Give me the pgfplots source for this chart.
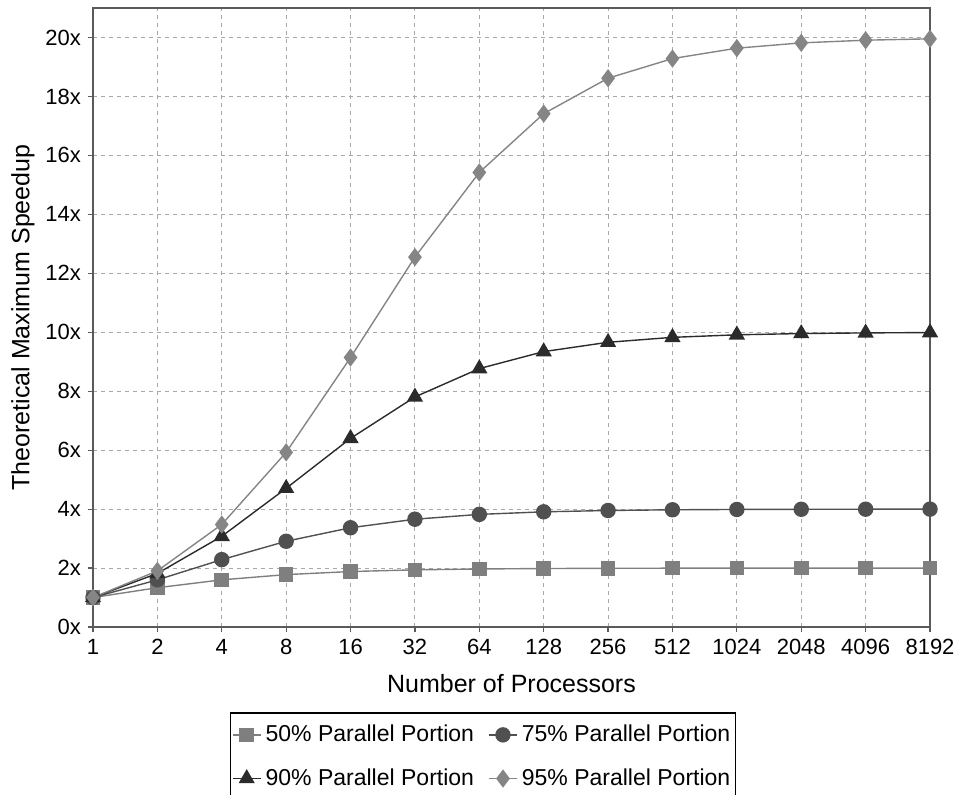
\documentclass[border=0pt]{standalone}
\usepackage{pgfplots}
\pgfplotsset{compat=1.18}
\usepackage{fontspec}
\setmainfont{Liberation Sans}

\definecolor{gridgray}{HTML}{A8A8A8}
\definecolor{framegray}{HTML}{5A5A5A}
\definecolor{sqgray}{HTML}{7F7F7F}
\definecolor{cigray}{HTML}{505050}
\definecolor{trgray}{HTML}{2B2B2B}
\definecolor{digray}{HTML}{858585}

\begin{document}
\begin{tikzpicture}
\begin{axis}[
    scale only axis,
    width=418.5pt,
    height=309.5pt,
    xmin=0, xmax=13,
    ymin=0, ymax=21,
    xtick={0,...,13},
    xticklabels={1,2,4,8,16,32,64,128,256,512,1024,2048,4096,8192},
    ytick={0,2,...,20},
    yticklabels={0x,2x,4x,6x,8x,10x,12x,14x,16x,18x,20x},
    tick pos=left,
    tick align=outside,
    major tick length=2.5pt,
    tick style={framegray, line width=0.6pt},
    axis line style={framegray, line width=1pt},
    grid=major,
    grid style={gridgray, dash pattern=on 2pt off 2pt, line width=0.5pt},
    tick label style={font=\fontsize{11}{13}\selectfont},
    label style={font=\fontsize{12.5}{15}\selectfont},
    xlabel={Number of Processors},
    ylabel={Theoretical Maximum Speedup},
    xlabel style={at={(axis description cs:0.5,-0.091)}, anchor=center},
    ylabel style={at={(axis description cs:-0.0836,0.5)}, anchor=center},
    legend columns=2,
    legend style={
        at={(axis description cs:0.466,-0.138)}, anchor=north,
        draw=black, line width=0.6pt,
        font=\fontsize{11.5}{14}\selectfont,
        inner xsep=0.5pt, inner ysep=4pt,
        row sep=8pt,
        /tikz/every even column/.append style={column sep=5pt},
    },
    legend cell align=left,
    legend image code/.code={
        \draw[mark repeat=2, mark phase=2, #1]
            plot coordinates {(0cm,0cm) (0.25cm,0cm) (0.5cm,0cm)};
    },
]

% 50% parallel portion
\addplot[sqgray, line width=0.7pt, mark=square*, mark size=3.3pt, mark options={solid, fill=sqgray}]
    coordinates {
        (0,1.000) (1,1.333) (2,1.600) (3,1.778) (4,1.882) (5,1.939) (6,1.969)
        (7,1.984) (8,1.992) (9,1.996) (10,1.998) (11,1.999) (12,2.000) (13,2.000)
    };
\addlegendentry{50\% Parallel Portion}

% 75% parallel portion
\addplot[cigray, line width=0.7pt, mark=*, mark size=3.5pt, mark options={solid, fill=cigray}]
    coordinates {
        (0,1.000) (1,1.600) (2,2.286) (3,2.909) (4,3.368) (5,3.657) (6,3.821)
        (7,3.908) (8,3.953) (9,3.977) (10,3.988) (11,3.994) (12,3.997) (13,3.999)
    };
\addlegendentry{75\% Parallel Portion}

% 90% parallel portion
\addplot[trgray, line width=0.7pt, mark=triangle*, mark size=4pt, mark options={solid, fill=trgray}]
    coordinates {
        (0,1.000) (1,1.818) (2,3.077) (3,4.706) (4,6.400) (5,7.805) (6,8.767)
        (7,9.343) (8,9.660) (9,9.827) (10,9.913) (11,9.956) (12,9.978) (13,9.989)
    };
\addlegendentry{90\% Parallel Portion}

% 95% parallel portion
\addplot[digray, line width=0.7pt, mark=diamond*, mark size=4pt, mark options={solid, fill=digray}]
    coordinates {
        (0,1.000) (1,1.905) (2,3.478) (3,5.926) (4,9.143) (5,12.549) (6,15.422)
        (7,17.415) (8,18.618) (9,19.284) (10,19.637) (11,19.817) (12,19.908) (13,19.954)
    };
\addlegendentry{95\% Parallel Portion}

\end{axis}
\pgfresetboundingbox
\useasboundingbox (-46.5pt,-83.5pt) rectangle (431.5pt,313.5pt);
\end{tikzpicture}
\end{document}
